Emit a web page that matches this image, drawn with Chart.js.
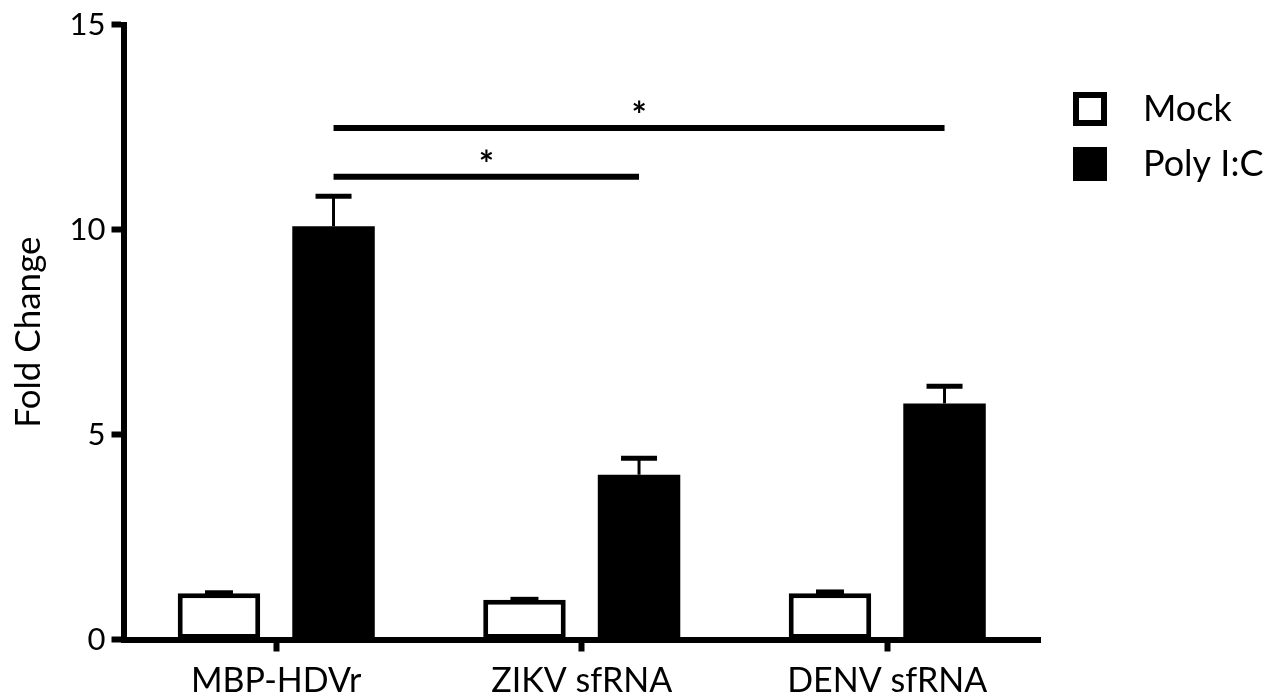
<!DOCTYPE html>
<html>
<head>
<meta charset="utf-8">
<script src="https://cdn.jsdelivr.net/npm/chart.js@4/dist/chart.umd.min.js"></script>
<style>
  html, body { margin: 0; padding: 0; background: #fff; }
  #wrap { width: 1279px; height: 698px; }
</style>
</head>
<body>
<div id="wrap"><canvas id="chart" width="1279" height="698"></canvas></div>
<script>
const fontFamily = 'Lato, "Open Sans", sans-serif';
const ink = '#000';

const categories = ['MBP-HDVr', 'ZIKV sfRNA', 'DENV sfRNA'];
const seriesNames = ['Mock', 'Poly I:C'];
const mockValues = [1.13, 0.97, 1.13];
const mockErrors = [0.01, 0.01, 0.03];
const polyValues = [10.08, 4.02, 5.76];
const polyErrors = [0.73, 0.40, 0.42];
const yTicks = [0, 5, 10, 15];

// significance bars: from category, to category, height, label
const sigFrom = [0, 0];
const sigTo = [1, 2];
const sigHeights = [11.29, 12.48];
const sigLabels = ['*', '*'];

const errorBars = {
    id: 'errorBars',
    afterDatasetsDraw(chart) {
        const ctx = chart.ctx;
        const y = chart.scales.y;
        chart.data.datasets.forEach((ds, i) => {
            const meta = chart.getDatasetMeta(i);
            const half = i === 0 ? 14 : 18;
            meta.data.forEach((bar, j) => {
                const top = y.getPixelForValue(ds.data[j] + ds.errors[j]);
                ctx.save();
                ctx.strokeStyle = ink;
                ctx.lineWidth = 3;
                ctx.beginPath();
                ctx.moveTo(bar.x, bar.y);
                ctx.lineTo(bar.x, top);
                ctx.stroke();
                ctx.lineWidth = 5;
                ctx.beginPath();
                ctx.moveTo(bar.x - half, top);
                ctx.lineTo(bar.x + half, top);
                ctx.stroke();
                ctx.restore();
            });
        });
    }
};

const sigBars = {
    id: 'sigBars',
    afterDatasetsDraw(chart) {
        const ctx = chart.ctx;
        const y = chart.scales.y;
        const bars = chart.getDatasetMeta(1).data;
        sigHeights.forEach((h, k) => {
            const x1 = bars[sigFrom[k]].x;
            const x2 = bars[sigTo[k]].x;
            const py = y.getPixelForValue(h);
            ctx.save();
            ctx.strokeStyle = ink;
            ctx.lineWidth = 6;
            ctx.beginPath();
            ctx.moveTo(x1, py);
            ctx.lineTo(x2, py);
            ctx.stroke();
            ctx.fillStyle = ink;
            ctx.font = `bold 36px ${fontFamily}`;
            ctx.textAlign = 'center';
            ctx.textBaseline = 'alphabetic';
            ctx.fillText(sigLabels[k], (x1 + x2) / 2, py);
            ctx.restore();
        });
    }
};

const boxLegend = {
    id: 'boxLegend',
    afterDraw(chart, args, opts) {
        const ctx = chart.ctx;
        chart.data.datasets.forEach((ds, i) => {
            const bx = opts.x;
            const by = opts.y + i * opts.gap;
            ctx.save();
            ctx.fillStyle = ink;
            ctx.fillRect(bx, by, opts.box, opts.box);
            if (ds.backgroundColor !== ink) {
                ctx.fillStyle = ds.backgroundColor;
                ctx.fillRect(bx + 6, by + 6, opts.box - 12, opts.box - 12);
            }
            ctx.fillStyle = ink;
            ctx.font = `36px ${fontFamily}`;
            ctx.textAlign = 'left';
            ctx.textBaseline = 'middle';
            ctx.fillText(ds.label, bx + opts.box + opts.textGap, by + opts.box / 2);
            ctx.restore();
        });
    }
};

new Chart(document.getElementById('chart'), {
    type: 'bar',
    data: {
        labels: categories,
        datasets: [
            {
                label: seriesNames[0],
                data: mockValues,
                errors: mockErrors,
                backgroundColor: '#fff',
                borderColor: ink,
                borderWidth: 5,
                borderSkipped: false
            },
            {
                label: seriesNames[1],
                data: polyValues,
                errors: polyErrors,
                backgroundColor: ink,
                borderColor: ink,
                borderWidth: 0
            }
        ]
    },
    options: {
        responsive: false,
        animation: false,
        categoryPercentage: 0.75,
        barPercentage: 0.72,
        layout: { padding: { top: 21.5, right: 239, bottom: 0, left: 0 } },
        plugins: {
            legend: { display: false },
            tooltip: { enabled: false },
            boxLegend: { x: 1073, y: 92, box: 34, gap: 55, textGap: 36 }
        },
        scales: {
            x: {
                offset: true,
                grid: { offset: false, drawOnChartArea: false, tickLength: 12, tickWidth: 6, tickColor: ink },
                border: { width: 6, color: ink },
                ticks: { color: ink, font: { family: fontFamily, size: 34 }, padding: 9, maxRotation: 0 },
                afterFit: s => { s.height = 58.5; }
            },
            y: {
                min: 0,
                max: 15,
                afterBuildTicks: s => { s.ticks = yTicks.map(v => ({ value: v })); },
                grid: { drawOnChartArea: false, tickLength: 12, tickWidth: 6, tickColor: ink },
                border: { width: 6, color: ink },
                ticks: { color: ink, font: { family: fontFamily, size: 31 }, padding: 6 },
                title: {
                    display: true,
                    text: 'Fold Change',
                    color: ink,
                    font: { family: fontFamily, size: 35 },
                    padding: { top: 8, bottom: 0 }
                },
                afterFit: s => { s.width = 123.5; }
            }
        }
    },
    plugins: [errorBars, sigBars, boxLegend]
});
</script>
</body>
</html>
